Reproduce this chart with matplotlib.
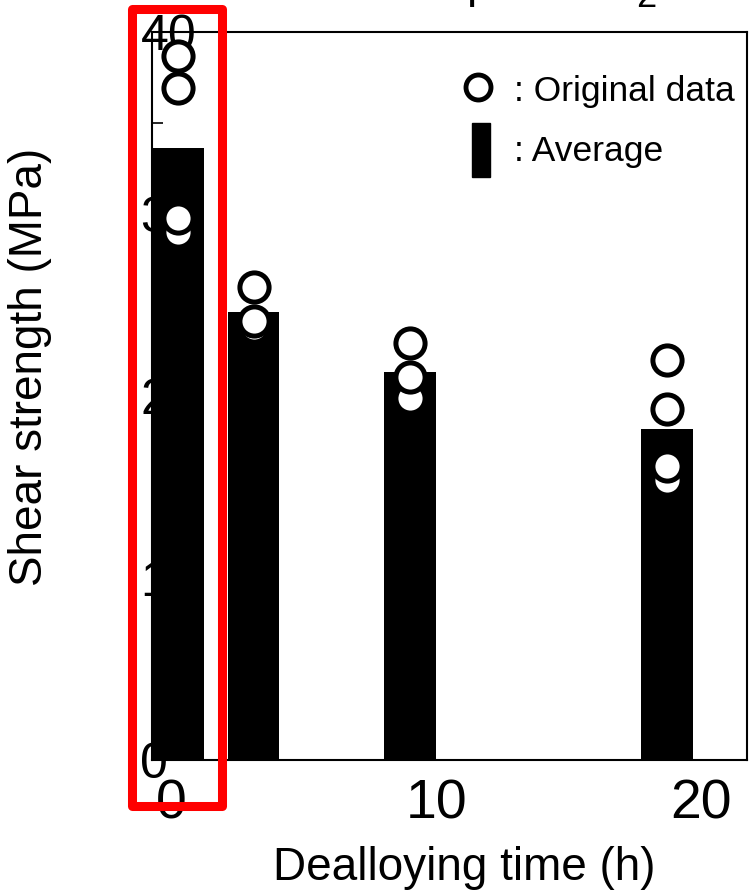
import matplotlib
matplotlib.use("Agg")
import matplotlib.pyplot as plt
from matplotlib.patches import Rectangle
from matplotlib.ticker import MultipleLocator

# data
times = [0.25, 3.1, 9.0, 18.7]          # dealloying time (h), bar positions
averages = [33.6, 24.6, 21.3, 18.2]     # average shear strength (MPa)
original = [                            # single measurements (MPa), ascending
    [29.0, 29.8, 36.95, 38.7],
    [23.8, 24.1, 26.0],
    [19.9, 21.05, 22.9],
    [15.4, 16.15, 19.3, 22.0],
]
xticks = [0, 10, 20]
yticks = [0, 10, 20, 30, 40]
ytick_labels = ["0", "1", "2", "3", "40"]   # labels are clipped behind the first bar

plt.rcParams["font.family"] = ["Liberation Sans", "DejaVu Sans"]

W, H = 750, 890
fig = plt.figure(figsize=(W / 100, H / 100), dpi=100)
ax = fig.add_axes([152 / W, 1 - 760 / H, (747 - 152) / W, (760 - 32) / H])
ax.set_axisbelow(True)  # bars cover the tick labels, as in the source

ax.bar(times, averages, width=1.96, color="black", zorder=1)
for t, vals in zip(times, original):
    ax.plot([t] * len(vals), vals, "o", ms=21, mfc="white", mec="black",
            mew=3.6, zorder=3, clip_on=False)

ax.set_xlim(-0.73, 21.72)
ax.set_ylim(0, 40)
ax.set_xticks(xticks)
ax.set_xticklabels([str(v) for v in xticks], fontsize=40)
ax.tick_params(axis="x", length=0, pad=13)
ax.set_yticks(yticks)
ax.set_yticklabels(ytick_labels, fontsize=36, ha="left")
ax.yaxis.set_minor_locator(MultipleLocator(5))
ax.tick_params(axis="y", which="both", direction="in", length=8, width=1.2, pad=8.3)
for s in ax.spines.values():
    s.set_linewidth(1.5)

# axis titles
fig.text(42 / W, 1 - 367 / H, "Shear strength (MPa)", fontsize=33, rotation=90,
         ha="center", va="baseline", rotation_mode="anchor")
fig.text(464.5 / W, 1 - 880 / H, "Dealloying time (h)", fontsize=33,
         ha="center", va="baseline")

# hand-made legend
ax.plot([0.548], [0.9245], "o", ms=18, mfc="white", mec="black", mew=3.5,
        transform=ax.transAxes, clip_on=False)
ax.add_patch(Rectangle((0.538, 0.8008), 0.0303, 0.0742, color="black",
                       transform=ax.transAxes, zorder=3))
ax.text(0.609, (760 - 101) / 728, ": Original data", fontsize=25.5,
        transform=ax.transAxes, va="baseline")
ax.text(0.609, (760 - 161) / 728, ": Average", fontsize=25.5,
        transform=ax.transAxes, va="baseline")

# fragments of the cut-off title
fig.text(466 / W, 1 + 2.6 / H, "p", fontsize=33, va="baseline")
fig.text(636 / W, 1 - 7 / H, "2", fontsize=26, va="baseline")

# red highlight box
fig.add_artist(Rectangle((132, H - 806), 90, 806 - 8.5, transform=None, fill=False,
                         edgecolor="#ff0000", linewidth=6.5, joinstyle="round"))

fig.savefig("out.png", dpi=100)
